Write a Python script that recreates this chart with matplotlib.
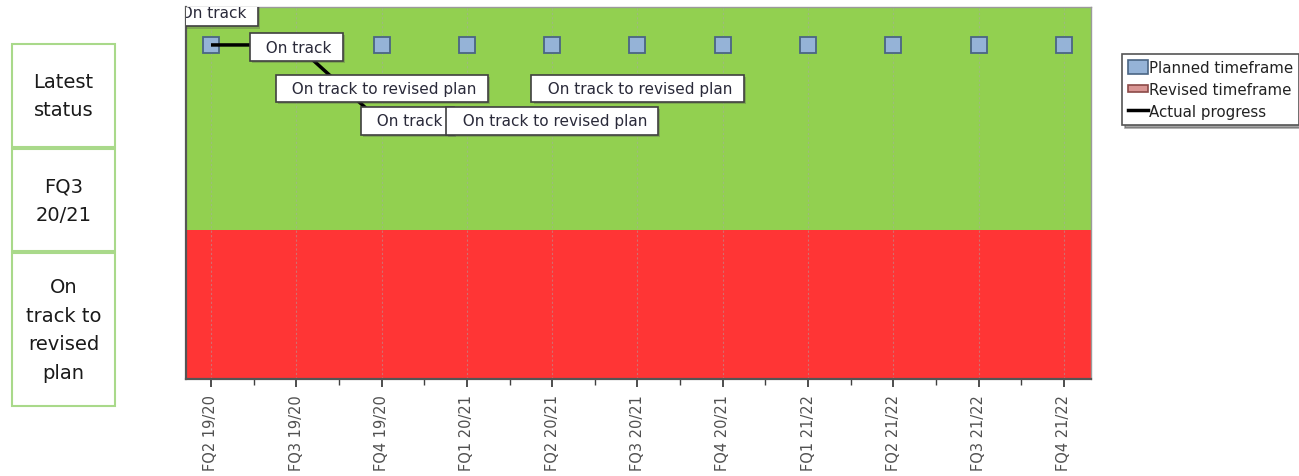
import matplotlib
matplotlib.use("Agg")
import matplotlib.pyplot as plt
from matplotlib.patches import Rectangle, Patch
from matplotlib.lines import Line2D
from matplotlib.legend_handler import HandlerPatch
import matplotlib.patheffects as pe

# ---------------- data ----------------
quarters = ["FQ2 19/20", "FQ3 19/20", "FQ4 19/20", "FQ1 20/21", "FQ2 20/21", "FQ3 20/21",
            "FQ4 20/21", "FQ1 21/22", "FQ2 21/22", "FQ3 21/22", "FQ4 21/22"]
planned_level = 0.898            # y-level of planned timeframe markers
band_bottoms = [0.0, 0.4]
band_tops = [0.4, 1.0]
band_colors = ["#FF3535", "#92D050"]

actual_x = [0, 1, 2, 3, 4, 5]
actual_y = [0.898, 0.898, 0.69, 0.69, 0.69, 0.69]

label_texts = ["On track", "On track", "On track to revised plan", "On track",
               "On track to revised plan", "On track to revised plan"]
label_x = [0.0, 1.0, 2.0, 2.3, 4.0, 5.0]
label_y = [0.985, 0.892, 0.781, 0.694, 0.694, 0.781]

table_rows = ["Latest\nstatus", "FQ3\n20/21", "On\ntrack to\nrevised\nplan"]
table_px = [(45, 148), (150, 252), (254, 407)]   # top/bottom pixel rows of each cell

legend_labels = ["Planned timeframe", "Revised timeframe", "Actual progress"]

# ---------------- figure ----------------
W, H = 1299, 477
fig = plt.figure(figsize=(W / 100, H / 100), dpi=100)
ax = fig.add_axes([186 / W, 1 - 380 / H, (1091 - 186) / W, (380 - 8) / H])

xs = list(range(len(quarters)))

for b0, b1, c in zip(band_bottoms, band_tops, band_colors):
    ax.axhspan(b0, b1, color=c, zorder=0, lw=0)

for x in xs:
    ax.axvline(x, color="#a8a8a8", lw=0.8, ls=(0, (2, 2)), alpha=0.5, zorder=1)

ax.plot(xs, [planned_level] * len(xs), ls="none", marker="s", markersize=11.5,
        markerfacecolor="#95B3D7", markeredgecolor="#4A6584", markeredgewidth=1.3, zorder=3)

ax.plot(actual_x, actual_y, color="black", lw=2.5, zorder=4, solid_capstyle="butt")

for t, lx, ly in zip(label_texts, label_x, label_y):
    ax.text(lx, ly, "  " + t + " ", ha="center", va="center", fontsize=11,
            color="#2a2a3a", zorder=5, clip_on=True,
            bbox=dict(boxstyle="square,pad=0.42", fc="white", ec="#404040", lw=1.2,
                      path_effects=[pe.withSimplePatchShadow(offset=(1.5, -1.5), alpha=0.3)]))

ax.set_xticks(xs)
ax.set_xticklabels(quarters, rotation=90, fontsize=10.5, color="#505050")
ax.set_xticks([x + 0.5 for x in xs[:-1]], minor=True)
ax.tick_params(axis="x", which="major", length=6, width=1.3, color="#404040", pad=5)
ax.tick_params(axis="x", which="minor", length=4, width=1.0, color="#404040")
ax.set_yticks([])
ax.set_xlim(-0.293, 10.317)
ax.set_ylim(0, 1)

for s in ["left", "bottom"]:
    ax.spines[s].set_color("#555555")
    ax.spines[s].set_linewidth(1.6)
for s in ["top", "right"]:
    ax.spines[s].set_color("#9a9a9a")
    ax.spines[s].set_linewidth(1.0)

# ---------------- left table ----------------
x0, x1 = 12, 115
for txt, (t, b) in zip(table_rows, table_px):
    fig.patches.append(Rectangle((x0 / W, 1 - b / H), (x1 - x0) / W, (b - t) / H,
                                 transform=fig.transFigure, fc="white",
                                 ec="#A9D98A", lw=1.5))
    fig.text((x0 + x1) / 2 / W, 1 - (t + b) / 2 / H, txt, ha="center", va="center",
             fontsize=14, color="#1a1a1a", linespacing=1.65)

# ---------------- legend ----------------
def flat_rect(legend, orig_handle, xdescent, ydescent, width, height, fontsize):
    return Rectangle((-xdescent, -ydescent + height * 0.25), width, height * 0.5)

handles = [Patch(fc="#95B3D7", ec="#4A6584", lw=1.2),
           Patch(fc="#D99694", ec="#8C4A48", lw=1.2),
           Line2D([0], [0], color="black", lw=2.5)]
leg = fig.legend(handles, legend_labels, loc="upper left",
                 bbox_to_anchor=(1122 / W, 1 - 55 / H), fontsize=10.8, frameon=True,
                 fancybox=False, shadow=True, handlelength=1.3, handleheight=1.05,
                 handletextpad=0.12, borderpad=0.4, labelspacing=0.45, borderaxespad=0,
                 handler_map={handles[1]: HandlerPatch(patch_func=flat_rect)})
leg.get_frame().set_edgecolor("#555555")
leg.get_frame().set_linewidth(1.2)
for t in leg.get_texts():
    t.set_color("#222222")

fig.savefig("out.png", dpi=100)
